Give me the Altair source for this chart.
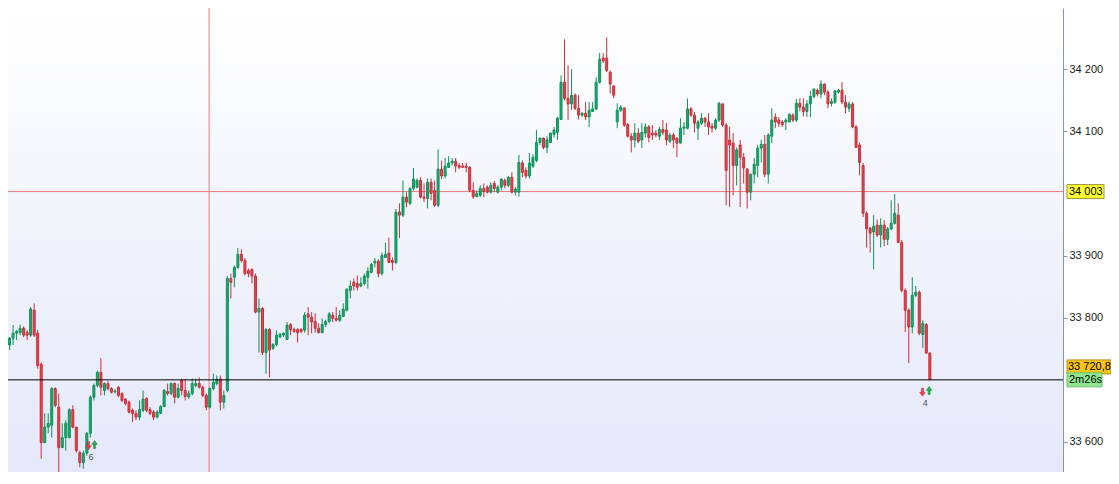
import altair as alt
import pandas as pd

# ---- candle data ----
opens = [33745,33756,33767,33775,33776,33783,33776,33772,33812,33775,
 33725,33599,33624,33627,33686,33656,33591,33607,33607,33652,
 33624,33583,33567,33582,33614,33672,33691,33712,33683,33694,
 33686,33681,33688,33678,33669,33664,33651,33646,33640,33651,
 33670,33652,33648,33640,33646,33657,33681,33678,33694,33672,
 33699,33683,33673,33678,33691,33694,33688,33675,33656,33686,
 33694,33701,33664,33683,33863,33865,33881,33902,33892,33876,
 33878,33867,33809,33815,33744,33781,33751,33757,33769,33772,
 33765,33789,33781,33781,33781,33780,33806,33801,33794,33783,
 33776,33789,33794,33804,33799,33796,33802,33812,33844,33857,
 33855,33851,33855,33865,33873,33888,33891,33871,33897,33904,
 33892,33889,33970,33965,33994,33984,34008,34010,34021,33994,
 33992,34018,34005,33981,34039,34028,34042,34049,34052,34045,
 34044,34044,34042,34005,33995,33997,34008,34010,34002,34016,
 34002,34010,34021,34013,34026,34002,34002,34049,34037,34028,
 34044,34053,34082,34089,34074,34082,34095,34098,34119,34179,
 34153,34144,34158,34137,34126,34129,34123,34132,34136,34179,
 34218,34218,34195,34173,34115,34134,34137,34111,34092,34086,
 34097,34086,34097,34107,34097,34097,34092,34103,34102,34084,
 34094,34089,34081,34105,34105,34136,34126,34105,34113,34121,
 34115,34108,34105,34118,34144,34110,34086,34081,34045,34078,
 34058,34039,34002,34031,34045,34073,34079,34031,34092,34123,
 34118,34115,34115,34115,34126,34118,34145,34139,34132,34144,
 34156,34166,34160,34176,34163,34145,34147,34163,34166,34147,
 34137,34144,34107,34078,34045,33968,33944,33938,33949,33933,
 33949,33926,33943,33952,33965,33921,33844,33812,33785,33836,
 33841,33773,33789,33743]
highs = [33759,33769,33788,33780,33789,33786,33780,33817,33823,33780,
 33728,33646,33646,33688,33688,33678,33630,33635,33654,33659,
 33624,33586,33586,33616,33675,33694,33715,33735,33696,33698,
 33688,33685,33690,33680,33670,33667,33654,33651,33667,33683,
 33672,33656,33651,33651,33659,33685,33694,33696,33696,33694,
 33702,33701,33683,33702,33702,33704,33691,33678,33688,33710,
 33707,33707,33683,33867,33871,33884,33912,33910,33896,33879,
 33879,33871,33831,33817,33783,33783,33759,33780,33776,33776,
 33793,33791,33784,33783,33783,33809,33817,33809,33807,33791,
 33799,33797,33809,33809,33817,33812,33823,33847,33860,33863,
 33868,33865,33871,33881,33888,33896,33894,33905,33921,33929,
 33897,33975,33984,34021,34002,34010,34041,34024,34026,34016,
 34024,34024,34021,34071,34053,34057,34060,34057,34057,34049,
 34049,34049,34044,34018,34005,34013,34016,34013,34018,34020,
 34013,34024,34024,34028,34034,34010,34062,34053,34042,34065,
 34063,34102,34090,34090,34092,34098,34107,34123,34190,34248,
 34206,34200,34161,34158,34131,34147,34147,34147,34187,34226,
 34226,34251,34198,34174,34145,34142,34139,34113,34097,34113,
 34105,34113,34113,34110,34110,34102,34107,34118,34113,34097,
 34097,34090,34121,34115,34153,34139,34131,34118,34129,34123,
 34129,34113,34121,34147,34145,34113,34107,34097,34074,34086,
 34065,34041,34032,34057,34078,34086,34094,34097,34137,34129,
 34123,34118,34121,34129,34129,34152,34153,34153,34150,34165,
 34169,34169,34182,34177,34166,34153,34166,34168,34179,34158,
 34148,34147,34110,34082,34049,33971,33946,33965,33958,33960,
 33957,33946,33989,33999,33984,33925,33847,33815,33865,33851,
 33844,33796,33791,33744]
lows = [33731,33748,33756,33764,33772,33769,33764,33769,33769,33718,
 33573,33598,33614,33607,33656,33546,33591,33586,33606,33622,
 33583,33559,33557,33578,33607,33667,33688,33675,33675,33683,
 33678,33678,33672,33664,33659,33646,33632,33635,33635,33648,
 33648,33643,33635,33638,33645,33656,33675,33675,33662,33670,
 33675,33667,33669,33675,33688,33686,33672,33651,33654,33683,
 33691,33651,33654,33680,33831,33849,33879,33889,33868,33865,
 33855,33807,33744,33740,33710,33704,33748,33754,33767,33769,
 33764,33772,33776,33760,33775,33776,33772,33775,33776,33775,
 33775,33785,33791,33793,33794,33793,33801,33810,33831,33844,
 33844,33849,33852,33847,33871,33881,33865,33868,33896,33888,
 33876,33886,33928,33962,33978,33981,34005,34008,33992,33986,
 33976,33989,33978,33978,34023,34024,34041,34045,34034,34039,
 34041,34034,34002,33991,33994,33994,33994,34000,34000,34002,
 34000,34005,34008,34010,34000,33997,33995,34026,34024,34024,
 34041,34050,34078,34071,34065,34081,34090,34086,34118,34150,
 34118,34134,34134,34119,34123,34118,34107,34131,34134,34177,
 34210,34195,34161,34153,34105,34131,34107,34090,34066,34074,
 34081,34073,34090,34082,34086,34090,34086,34094,34078,34081,
 34073,34058,34081,34094,34103,34123,34098,34086,34110,34107,
 34094,34098,34102,34115,34107,33981,33978,33997,34013,33978,
 34016,33976,33989,34016,34026,34050,34026,34016,34081,34105,
 34107,34107,34102,34115,34115,34115,34132,34124,34123,34123,
 34153,34156,34153,34158,34137,34140,34144,34161,34144,34129,
 34131,34105,34073,34029,33962,33913,33905,33878,33930,33913,
 33915,33917,33941,33950,33920,33841,33777,33727,33775,33833,
 33772,33751,33743,33699]
closes = [33756,33767,33775,33778,33783,33772,33772,33814,33772,33723,
 33599,33624,33630,33686,33659,33591,33607,33630,33652,33624,
 33586,33567,33582,33614,33672,33691,33712,33688,33694,33686,
 33680,33682,33675,33667,33662,33648,33646,33640,33652,33669,
 33651,33646,33640,33648,33657,33683,33678,33694,33672,33686,
 33683,33673,33678,33694,33694,33688,33675,33656,33686,33696,
 33701,33664,33675,33863,33857,33881,33902,33892,33871,33871,
 33867,33809,33815,33744,33781,33748,33757,33772,33773,33775,
 33788,33781,33778,33776,33778,33804,33801,33793,33783,33776,
 33789,33794,33806,33799,33796,33804,33814,33846,33851,33851,
 33849,33855,33867,33875,33886,33891,33871,33900,33902,33889,
 33889,33970,33965,33994,33986,34008,34023,34021,33994,33992,
 34018,34000,33981,34039,34028,34044,34049,34052,34044,34042,
 34042,34042,34005,33995,34000,34008,34003,34002,34013,34008,
 34010,34023,34013,34026,34002,34007,34050,34034,34028,34049,
 34058,34082,34089,34074,34086,34097,34102,34121,34179,34153,
 34144,34158,34137,34126,34129,34123,34134,34136,34179,34216,
 34213,34198,34176,34158,34134,34139,34110,34092,34086,34097,
 34084,34098,34107,34090,34094,34094,34103,34098,34086,34094,
 34086,34081,34105,34107,34136,34126,34113,34115,34121,34115,
 34107,34105,34118,34145,34110,34037,34078,34045,34070,34058,
 34041,34002,34031,34047,34073,34079,34031,34094,34118,34115,
 34113,34111,34118,34127,34118,34145,34139,34132,34144,34156,
 34168,34160,34176,34163,34144,34148,34165,34166,34147,34139,
 34144,34107,34074,34050,33968,33943,33936,33947,33933,33949,
 33926,33943,33952,33968,33921,33844,33812,33785,33836,33841,
 33775,33791,33743,33701]

# ---- reference lines / labels ----
cross_index = [57.8]
cross_price = [34003]
cross_label = ["34 003"]
last_line_price = [33700]
ask_price = [33720.8]
ask_label = ["33 720,8"]
timer_label = ["2m26s"]
axis_values = [33600, 33800, 33900, 34100, 34200, 34300]

arrow_index = [23.5, 25.2, 260.9, 262.8]
arrow_price = [33594, 33596, 33680, 33683]
arrow_dir = ["down", "up", "down", "up"]
count_index = [24.2, 261.7]
count_price = [33576, 33663]
count_text = ["6", "4"]

W, H = 1055, 464
RIGHT = 48
X_DOMAIN = [1.974, 299.49]
Y_DOMAIN = [33551.7, 34298.4]

GREEN, GREEN_EDGE = "#1bab6f", "#10905a"
RED, RED_EDGE = "#e8434c", "#c8303a"
CROSS = "#ec7c7c"
FONT = "Liberation Sans"

df = pd.DataFrame({"i": list(range(len(opens))), "open": opens, "high": highs,
                   "low": lows, "close": closes})
df["dir"] = ["up" if c >= o else "down" for o, c in zip(opens, closes)]

xs = alt.Scale(domain=X_DOMAIN, nice=False, zero=False)
ys = alt.Scale(domain=Y_DOMAIN, nice=False, zero=False)
fill_scale = alt.Scale(domain=["up", "down"], range=[GREEN, RED])
edge_scale = alt.Scale(domain=["up", "down"], range=[GREEN_EDGE, RED_EDGE])

yaxis = alt.Axis(orient="right", values=axis_values,
                 labelExpr="replace(format(datum.value, ','), ',', ' ')",
                 tickSize=4, labelPadding=2, domainColor="#8a96a8", tickColor="#8a96a8",
                 labelColor="#1a1a1a", labelFont=FONT, labelFontSize=11, grid=False,
                 title=None)


def Y(field):
    return alt.Y(field, scale=ys, axis=yaxis, title=None)


def X(field):
    return alt.X(field, scale=xs, axis=None)


background = alt.Chart(alt.Data(values=[{}])).mark_rect(
    color=alt.Gradient(gradient="linear",
                       stops=[alt.GradientStop(color="#ffffff", offset=0),
                              alt.GradientStop(color="#e4e8f9", offset=1)],
                       x1=0, x2=0, y1=0, y2=1)
).encode(x=alt.value(0), x2=alt.value(W), y=alt.value(0), y2=alt.value(H))

cross_df = pd.DataFrame({"i": cross_index, "price": cross_price, "text": cross_label})
cross_v = alt.Chart(cross_df).mark_rule(color=CROSS, strokeWidth=1).encode(
    x=X("i:Q"))
cross_h = alt.Chart(cross_df).mark_rule(color=CROSS, strokeWidth=1).encode(
    y=Y("price:Q"))

wicks = alt.Chart(df).mark_rule(strokeWidth=1, clip=True).encode(
    x=X("i:Q"), y=Y("low:Q"), y2="high:Q",
    color=alt.Color("dir:N", scale=edge_scale, legend=None))
bodies = alt.Chart(df).mark_bar(size=2, strokeWidth=1, clip=True).encode(
    x=X("i:Q"), y=Y("open:Q"), y2="close:Q",
    fill=alt.Fill("dir:N", scale=fill_scale, legend=None),
    stroke=alt.Stroke("dir:N", scale=edge_scale, legend=None))

last_df = pd.DataFrame({"price": last_line_price, "text": timer_label})
last_line = alt.Chart(last_df).mark_rule(color="#000000", strokeWidth=1).encode(
    y=Y("price:Q"))

arrow_path = "M-0.25,1L0.25,1L0.25,0L0.7,0L0,-1L-0.7,0L-0.25,0Z"
arr_df = pd.DataFrame({"i": arrow_index, "price": arrow_price, "dir": arrow_dir})
arrows_up = alt.Chart(arr_df).transform_filter("datum.dir == 'up'").mark_point(
    shape=arrow_path, filled=True, size=64, color="#22b14c", opacity=1,
    stroke="#168a38", strokeWidth=0.5).encode(x=X("i:Q"), y=Y("price:Q"))
arrows_dn = alt.Chart(arr_df).transform_filter("datum.dir == 'down'").mark_point(
    shape=arrow_path, filled=True, size=64, angle=180, color="#e8434c", opacity=1,
    stroke="#b02a33", strokeWidth=0.5).encode(x=X("i:Q"), y=Y("price:Q"))

cnt_df = pd.DataFrame({"i": count_index, "price": count_price, "text": count_text})
counts = alt.Chart(cnt_df).mark_text(font=FONT, fontSize=9, color="#4a5066").encode(
    x=X("i:Q"), y=Y("price:Q"), text="text:N")

# price tags on the right axis
cross_box = alt.Chart(cross_df).mark_rect(
    fill="#ffff33", stroke="#9a9a3a", strokeWidth=1, yOffset=-7, y2Offset=7).encode(
    x=alt.value(W + 4), x2=alt.value(W + 41), y=Y("price:Q"), y2="price:Q")
cross_txt = alt.Chart(cross_df).mark_text(
    font=FONT, fontSize=11, color="#000000", align="left", baseline="middle").encode(
    x=alt.value(W + 6), y=Y("price:Q"), text="text:N")

ask_df = pd.DataFrame({"price": ask_price, "text": ask_label})
ask_box = alt.Chart(ask_df).mark_rect(
    fill="#f5c518", stroke="#b8901a", strokeWidth=1, yOffset=-7, y2Offset=7).encode(
    x=alt.value(W + 4), x2=alt.value(W + 48), y=Y("price:Q"), y2="price:Q")
ask_txt = alt.Chart(ask_df).mark_text(
    font=FONT, fontSize=11, color="#000000", align="left", baseline="middle").encode(
    x=alt.value(W + 5), y=Y("price:Q"), text="text:N")

timer_box = alt.Chart(last_df).mark_rect(
    fill="#8fe88f", stroke="#6fbf6f", strokeWidth=1, yOffset=-7, y2Offset=7).encode(
    x=alt.value(W + 4), x2=alt.value(W + 39), y=Y("price:Q"), y2="price:Q")
timer_txt = alt.Chart(last_df).mark_text(
    font=FONT, fontSize=11, color="#000000", align="left", baseline="middle").encode(
    x=alt.value(W + 6), y=Y("price:Q"), text="text:N")

chart = alt.layer(
    background, cross_v, cross_h, wicks, bodies, last_line,
    arrows_dn, arrows_up, counts,
    cross_box, cross_txt, ask_box, ask_txt, timer_box, timer_txt
).properties(
    width=W, height=H,
    autosize=alt.AutoSizeParams(type="none"),
    padding={"left": 0, "top": 0, "right": RIGHT, "bottom": 0},
    background="#ffffff"
).configure_view(stroke=None)

chart.save("out.html", embed_options={"renderer": "svg", "actions": False})
